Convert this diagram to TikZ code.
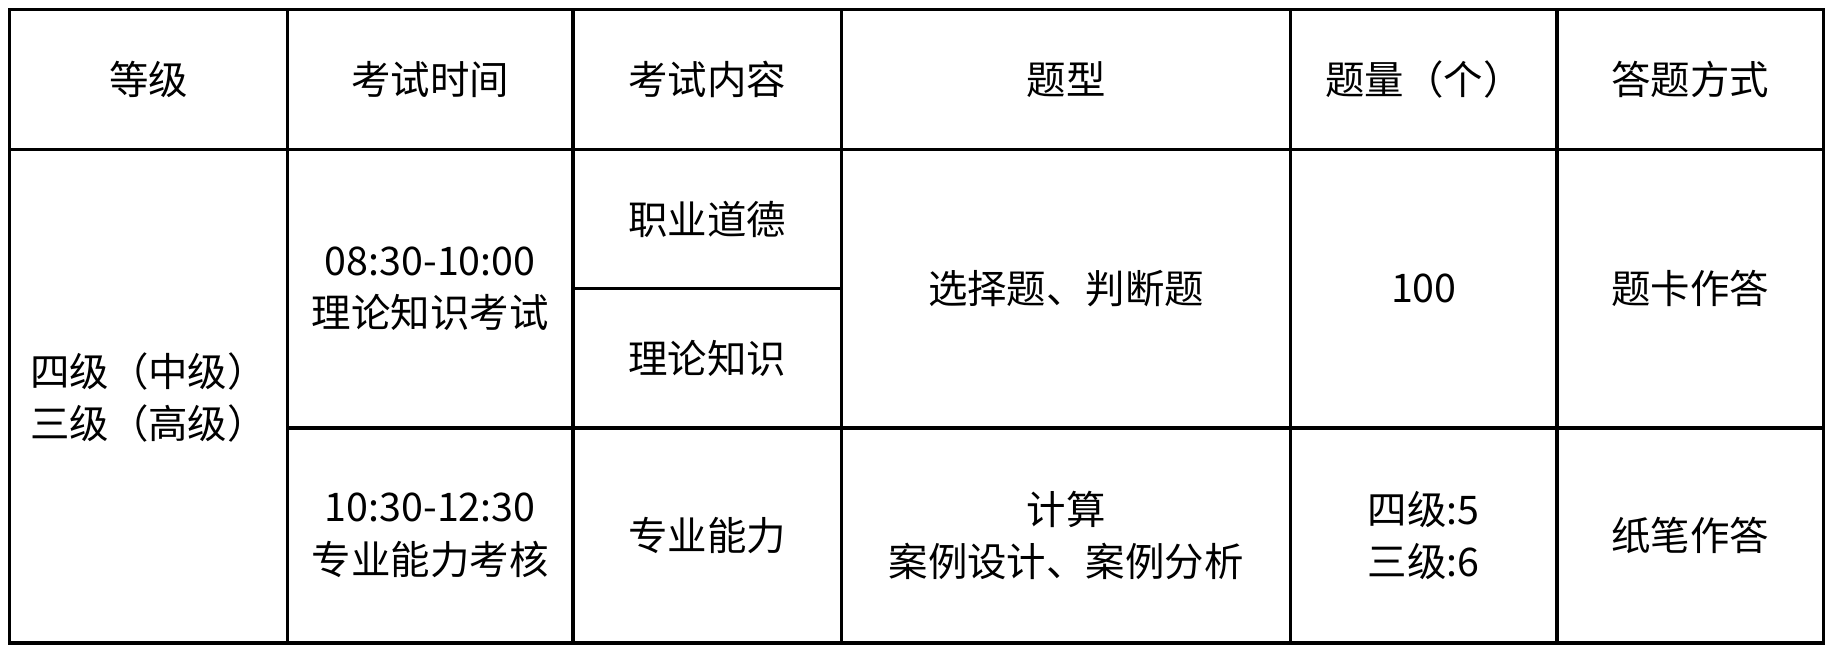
\documentclass[tikz,border=0pt]{standalone}
\usepackage{fontspec}
\setmainfont{Noto Sans CJK SC}
\begin{document}
\begin{tikzpicture}[x=0.05cm,y=-0.05cm,
  txt/.style={font=\fontsize{48}{64}\selectfont,align=center,inner sep=0pt},
  grid/.style={line width=4.2pt,black}]
\useasboundingbox (0,0) rectangle (1568,558);
\fill[white] (0,0) rectangle (1568,558);
\draw[grid] (8,8) rectangle (1560,550);
\foreach \x in {246,490,720,1104,1332} \draw[grid] (\x,8) -- (\x,550);
\draw[grid] (8,128) -- (1560,128);
\draw[grid] (246,366) -- (1560,366);
\draw[grid] (490,247) -- (720,247);
\node[txt] (h1) at (127,68) {等级};
\node[txt] (h2) at (368,68) {考试时间};
\node[txt] (h3) at (605,68) {考试内容};
\node[txt] (h4) at (912,68) {题型};
\node[txt] (h5) at (1218,68) {题量（个）};
\node[txt] (h6) at (1446,68) {答题方式};
\node[txt] (lv) at (127,340) {四级（中级）\\三级（高级）};
\node[txt] (t1) at (368,247) {08:30-10:00\\理论知识考试};
\node[txt] (c1) at (605,188) {职业道德};
\node[txt] (c2) at (605,307) {理论知识};
\node[txt] (q1) at (912,247) {选择题、判断题};
\node[txt] (n1) at (1218,247) {100};
\node[txt] (a1) at (1446,247) {题卡作答};
\node[txt] (t2) at (368,458) {10:30-12:30\\专业能力考核};
\node[txt] (c3) at (605,458) {专业能力};
\node[txt] (q2) at (912,458) {计算\\案例设计、案例分析};
\node[txt] (n2) at (1218,458) {四级:5\\三级:6};
\node[txt] (a2) at (1446,458) {纸笔作答};
\end{tikzpicture}
\end{document}
